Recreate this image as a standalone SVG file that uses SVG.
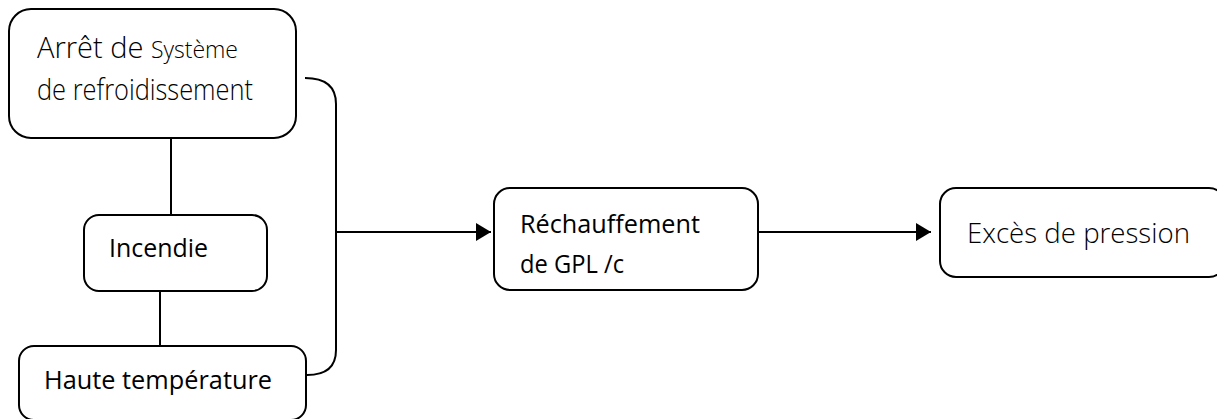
<svg xmlns="http://www.w3.org/2000/svg" width="1217" height="419" viewBox="0 0 1217 419">
  <style>
    .box { fill: #ffffff; stroke: #000000; stroke-width: 2; }
    .wire { fill: none; stroke: #000000; stroke-width: 2; }
    .lbl { font-family: "Open Sans", "Liberation Sans", sans-serif; fill: #000000; }
    .light { font-weight: 300; }
  </style>
  <defs>
    <marker id="arrow" markerWidth="16" markerHeight="18" refX="15" refY="9" orient="auto" markerUnits="userSpaceOnUse">
      <path d="M0,0 L15,9 L0,18 Z" fill="#000000"/>
    </marker>
  </defs>
  <rect width="1217" height="419" fill="#ffffff"/>

  <!-- connectors -->
  <g id="connectors">
    <line class="wire" x1="171" y1="138" x2="171" y2="215"/>
    <line class="wire" x1="160" y1="291" x2="160" y2="346"/>
    <!-- brace grouping the three causes -->
    <path class="wire" d="M305,78 Q336,78 336,104 L336,350 Q336,375 307,375"/>
    <line class="wire" x1="336" y1="232" x2="491" y2="232" marker-end="url(#arrow)"/>
    <line class="wire" x1="758" y1="232" x2="931" y2="232" marker-end="url(#arrow)"/>
  </g>

  <g id="arret">
    <rect class="box" x="9" y="9" width="287" height="129" rx="22"/>
    <text class="lbl light" x="37" y="58"><tspan font-size="29">Arrêt de </tspan><tspan font-size="23">Système</tspan></text>
    <text class="lbl light" x="37" y="100" font-size="29" textLength="216" lengthAdjust="spacingAndGlyphs">de refroidissement</text>
  </g>

  <g id="incendie">
    <rect class="box" x="84" y="215" width="183" height="76" rx="15"/>
    <text class="lbl" x="109" y="257" font-size="25" textLength="99" lengthAdjust="spacingAndGlyphs">Incendie</text>
  </g>

  <g id="haute">
    <rect class="box" x="19" y="346" width="287" height="74" rx="15"/>
    <text class="lbl" x="44" y="389" font-size="26" textLength="228" lengthAdjust="spacingAndGlyphs">Haute température</text>
  </g>

  <g id="rechauffement">
    <rect class="box" x="494" y="188" width="264" height="102" rx="16"/>
    <text class="lbl" x="520" y="233" font-size="25" textLength="180" lengthAdjust="spacingAndGlyphs">Réchauffement</text>
    <text class="lbl" x="520" y="273" font-size="25" textLength="104" lengthAdjust="spacingAndGlyphs">de GPL /c</text>
  </g>

  <g id="exces">
    <rect class="box" x="940" y="188" width="285" height="89" rx="16"/>
    <text class="lbl light" x="967" y="243" font-size="28" textLength="223" lengthAdjust="spacingAndGlyphs">Excès de pression</text>
  </g>
</svg>
